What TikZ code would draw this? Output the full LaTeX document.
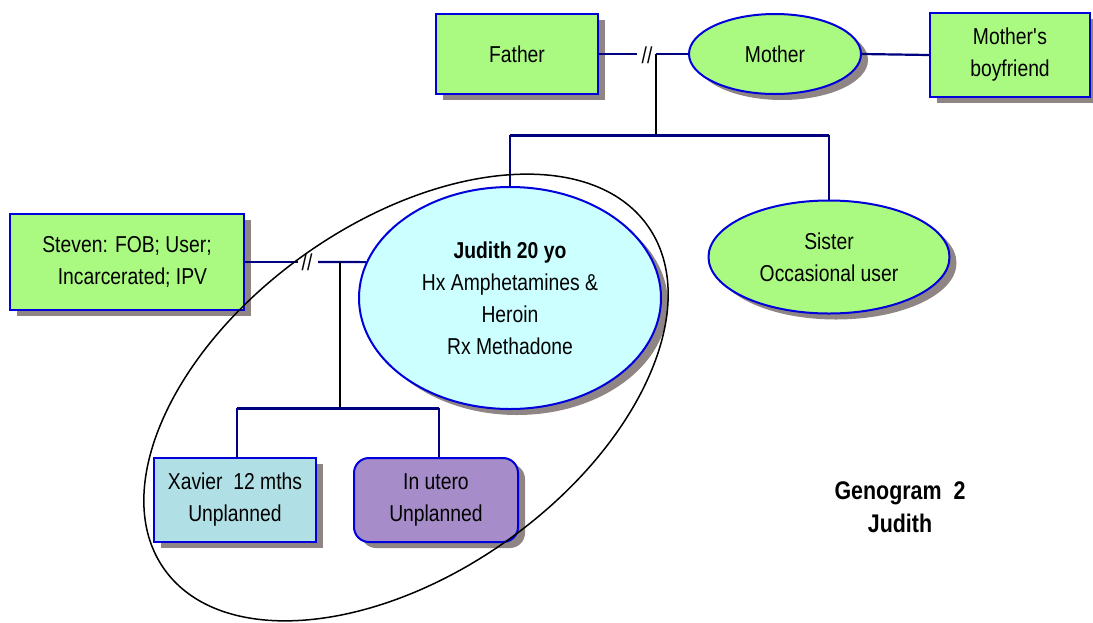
\documentclass[tikz,border=0pt]{standalone}
\usepackage{fontspec}
\setmainfont[FakeStretch=0.84]{Liberation Sans}
\usetikzlibrary{shapes.geometric,shadows}

\definecolor{boxgreen}{RGB}{170,250,130}
\definecolor{selfcyan}{RGB}{204,255,255}
\definecolor{childblue}{RGB}{176,224,230}
\definecolor{fetuspurple}{RGB}{166,140,200}
\definecolor{edgeblue}{RGB}{0,0,220}
\definecolor{linknavy}{RGB}{0,0,128}
\definecolor{shadowgray}{RGB}{143,133,133}

\tikzset{
  person/.style={draw=edgeblue, line width=2pt, inner sep=0pt, align=center,
    font=\fontsize{23}{32}\selectfont,
    drop shadow={shadow xshift=7pt, shadow yshift=-6pt, fill=shadowgray, opacity=1}},
  malebox/.style={person, rectangle, fill=boxgreen},
  femaleoval/.style={person, ellipse, fill=boxgreen},
  link/.style={draw=linknavy, line width=2.2pt},
  sibbar/.style={draw=linknavy, line width=3pt},
  stem/.style={draw=black, line width=1.5pt},
  divorce/.style={inner sep=0pt, font=\fontsize{23}{32}\selectfont},
}

\begin{document}
\begin{tikzpicture}[x=1pt,y=-1pt]
\useasboundingbox (0,0) rectangle (1093,622);

% parents' generation
\node[malebox, minimum width=162pt, minimum height=80pt] (father) at (517,54) {Father};
\node[femaleoval, minimum width=172pt, minimum height=80pt] (mother) at (775,54) {Mother};
\node[malebox, minimum width=160pt, minimum height=84pt] (boyf) at (1010,55) {Mother\textquotesingle s\\boyfriend};

% Judith's generation
\node[person, ellipse, fill=selfcyan, minimum width=302pt, minimum height=222pt] (judith) at (510,298)
  {\textbf{Judith 20 yo}\\Hx Amphetamines \&\\Heroin\\Rx Methadone};
\node[femaleoval, minimum width=241pt, minimum height=113pt] (sister) at (829,257) {Sister\\Occasional user};
\node[malebox, minimum width=234pt, minimum height=96pt] (steven) at (127,262)
  {Steven: FOB; User;\\\hspace*{11pt}Incarcerated; IPV};

% children
\node[person, rectangle, fill=childblue, minimum width=162pt, minimum height=84pt] (xavier) at (235,500)
  {Xavier~~12 mths\\Unplanned};
\node[person, rectangle, rounded corners=15pt, fill=fetuspurple, minimum width=164pt, minimum height=84pt] (utero) at (436,500)
  {In utero\\Unplanned};

% Father -- Mother (separated)
\coordinate (f1) at (637,54);
\coordinate (jm) at (656,54);
\coordinate (jmb) at (656,135);
\node[divorce] (div1) at (647,55) {//};
\draw[link] (father.east) -- (f1);
\draw[link] (jm) -- (mother.west);
\draw[link] (mother.east) -- (boyf.west);
\draw[stem] (jm) -- (jmb);
\coordinate (bar1) at (510,135);
\coordinate (bar2) at (829,135);
\draw[sibbar] (bar1) -- (bar2);
\draw[link] (bar1) -- (judith.north);
\draw[link] (bar2) -- (sister.north);

% Steven -- Judith (separated)
\coordinate (s1) at (298,262);
\coordinate (s2) at (318,262);
\coordinate (js) at (340,262);
\coordinate (jsb) at (340,408);
\node[divorce] (div2) at (307,262) {//};
\draw[link] (steven.east) -- (s1);
\draw[link] (s2) -- (judith.166.3);
\draw[stem] (js) -- (jsb);
\coordinate (kb1) at (237,408);
\coordinate (kb2) at (439,408);
\draw[sibbar] (kb1) -- (kb2);
\draw[link] (kb1) -- (kb1 |- xavier.north);
\draw[link] (kb2) -- (kb2 |- utero.north);

% household circle
\node[draw=black, line width=1.5pt, ellipse, rotate=35.4, inner sep=0pt,
  minimum width=593pt, minimum height=350.4pt] (household) at (406,397.5) {};

% caption
\node[align=center, font=\fontsize{25.5}{33}\selectfont\bfseries] (caption) at (900,507) {Genogram~~2\\Judith};
\end{tikzpicture}
\end{document}
